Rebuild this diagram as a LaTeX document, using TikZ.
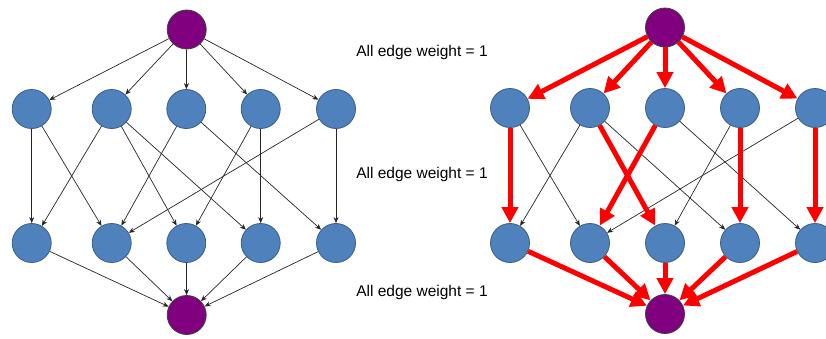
\documentclass[tikz,border=0pt]{standalone}
\usepackage{fontspec}
\setmainfont{Liberation Sans}
\usetikzlibrary{arrows.meta}
\definecolor{nodeblue}{HTML}{4F81BD}
\definecolor{nodeline}{HTML}{385D8A}
\definecolor{endpurple}{HTML}{800080}
\tikzset{
  vtx/.style={circle,draw=nodeline,line width=0.8pt,fill=nodeblue,minimum size=39pt,inner sep=0pt},
  endvtx/.style={vtx,fill=endpurple,draw=black!75},
  thinedge/.style={-{Stealth[length=6pt,width=5pt]},line width=0.7pt,black!85},
  pathedge/.style={-{Triangle[length=16pt,width=16pt]},line width=5pt,red},
  weightlabel/.style={font=\fontsize{15.5}{18}\selectfont,inner sep=0pt}
}
\begin{document}
\begin{tikzpicture}[x=1pt,y=-1pt]
  \useasboundingbox (0,0) rectangle (826,338);
  \clip (0,0) rectangle (826,338);
  % left graph
  \node[endvtx] (s) at (186.7,29.5) {};
  \node[endvtx] (t) at (186.7,315) {};
  \foreach \i/\x in {1/31.7,2/111.7,3/186.3,4/260.7,5/336}{
    \node[vtx] (a\i) at (\x,109) {};
    \node[vtx] (b\i) at (\x,243) {};
  }
  \foreach \i in {1,...,5}{
    \draw[thinedge] (s) -- (a\i);
    \draw[thinedge] (b\i) -- (t);
  }
  \foreach \i/\j in {1/1,1/2,2/1,2/3,2/4,3/2,3/5,4/3,4/4,5/2,5/5}
    \draw[thinedge] (a\i) -- (b\j);
  % right graph
  \node[endvtx] (rs) at (665,27.5) {};
  \node[endvtx] (rt) at (665,314) {};
  \foreach \i/\x in {1/510,2/590,3/665,4/740,5/815}{
    \node[vtx] (ra\i) at (\x,108) {};
    \node[vtx] (rb\i) at (\x,243) {};
  }
  \foreach \i in {1,...,5}{
    \draw[pathedge] (rs) -- (ra\i);
    \draw[pathedge] (rb\i) -- (rt);
  }
  \foreach \i/\j in {1/2,2/1,2/4,3/5,4/3,5/2}
    \draw[thinedge] (ra\i) -- (rb\j);
  \foreach \i/\j in {1/1,2/3,3/2,4/4,5/5}
    \draw[pathedge] (ra\i) -- (rb\j);
  % labels
  \node[weightlabel] (w1) at (422,52) {All edge weight = 1};
  \node[weightlabel] (w2) at (422,174) {All edge weight = 1};
  \node[weightlabel] (w3) at (422,292) {All edge weight = 1};
\end{tikzpicture}
\end{document}
